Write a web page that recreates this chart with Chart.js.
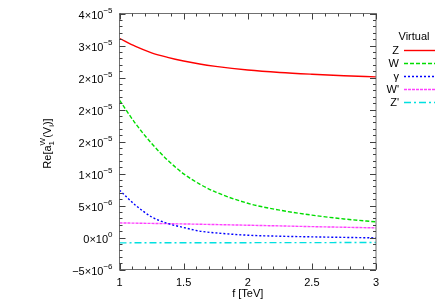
<!DOCTYPE html>
<html>
<head>
<meta charset="utf-8">
<script src="https://cdn.jsdelivr.net/npm/chart.js@4"></script>
<style>
  html, body { margin: 0; padding: 0; background: #fff; }
  #wrap { width: 436px; height: 305px; position: relative; }
</style>
</head>
<body>
<div id="wrap"><canvas id="chart" width="436" height="305"></canvas></div>
<script>
// f [TeV] sample points
const fValues = [1, 1.125, 1.25, 1.375, 1.5, 1.625, 1.75, 2, 2.25, 2.5, 2.75, 3];

// Re[a_1^W(V_i)] for each virtual boson
const zValues = [3.11e-5, 2.985e-5, 2.886e-5, 2.815e-5, 2.757e-5, 2.71e-5, 2.674e-5, 2.618e-5, 2.579e-5, 2.551e-5, 2.528e-5, 2.51e-5];
const wValues = [2.145e-5, 1.78e-5, 1.47e-5, 1.21e-5, 9.95e-6, 8.35e-6, 7.1e-6, 5.35e-6, 4.27e-6, 3.5e-6, 2.9e-6, 2.44e-6];
const gammaValues = [7.4e-6, 5.05e-6, 3.22e-6, 2.2e-6, 1.56e-6, 1.0e-6, 7.2e-7, 3.6e-7, 2.0e-7, 1.0e-7, 2e-8, -6e-8];
const wPrimeValues = [2.28e-6, 2.24e-6, 2.2e-6, 2.16e-6, 2.12e-6, 2.07e-6, 2.02e-6, 1.92e-6, 1.81e-6, 1.7e-6, 1.6e-6, 1.5e-6];
const zPrimeValues = [-8.4e-7, -8.3e-7, -8.3e-7, -8.25e-7, -8.2e-7, -8.2e-7, -8.2e-7, -8.1e-7, -8.0e-7, -8.0e-7, -7.9e-7, -7.8e-7];

const seriesLabels = ['Z', 'W', 'γ', "W'", "Z'"];
const legendTitle = 'Virtual';

// axis ticks (gnuplot rounds the mantissa, hence the repeated 2s)
const xTicks = [1, 1.5, 2, 2.5, 3];
const xTickLabels = ['1', '1.5', '2', '2.5', '3'];
const yTicks = [-5e-6, 0, 5e-6, 1e-5, 1.5e-5, 2e-5, 2.5e-5, 3e-5, 3.5e-5];
const yTickMantissa = ['\u22125', '0', '5', '1', '2', '2', '2', '3', '4'];
const yTickExponent = ['\u22126', '0', '\u22126', '\u22125', '\u22125', '\u22125', '\u22125', '\u22125', '\u22125'];

const FONT = '"Liberation Sans", Arial, sans-serif';

function toPoints(ys) {
    return fValues.map((x, i) => ({ x: x, y: ys[i] }));
}

const styles = [
    { color: '#ff0000', dash: [] },
    { color: '#00dd00', dash: [4, 2] },
    { color: '#0000ff', dash: [2, 2] },
    { color: '#ff40ff', dash: [3, 1] },
    { color: '#00e0e0', dash: [7, 3, 2, 3] },
];

const allValues = [zValues, wValues, gammaValues, wPrimeValues, zPrimeValues];

const datasets = allValues.map((vals, i) => ({
    label: seriesLabels[i],
    data: toPoints(vals),
    borderColor: styles[i].color,
    borderDash: styles[i].dash,
    borderWidth: 1.4,
    pointRadius: 0,
    fill: false,
    cubicInterpolationMode: 'monotone',
}));

// draws the gnuplot style frame, inward ticks, labels and key
const gnuplotDecor = {
    id: 'gnuplotDecor',
    afterDraw(chart) {
        const ctx = chart.ctx;
        const area = chart.chartArea;
        const xs = chart.scales.x;
        const ys = chart.scales.y;

        ctx.save();
        // frame
        ctx.strokeStyle = '#707070';
        ctx.lineWidth = 1;
        ctx.setLineDash([]);
        ctx.strokeRect(area.left, area.top, area.right - area.left, area.bottom - area.top);

        // x ticks: major every 0.5, minor every 0.1
        ctx.strokeStyle = '#404040';
        for (let k = 0; k <= 20; k++) {
            const v = 1 + k * 0.1;
            const px = Math.round(xs.getPixelForValue(v)) + 0.5;
            const len = (k % 5 === 0) ? 6 : 3;
            ctx.beginPath();
            ctx.moveTo(px, area.bottom);
            ctx.lineTo(px, area.bottom - len);
            ctx.moveTo(px, area.top);
            ctx.lineTo(px, area.top + len);
            ctx.stroke();
        }
        // y ticks: major every 5e-6, minor every 1e-6
        for (let k = 0; k <= 40; k++) {
            const v = -5e-6 + k * 1e-6;
            const py = Math.round(ys.getPixelForValue(v)) + 0.5;
            const len = (k % 5 === 0) ? 6 : 3;
            ctx.beginPath();
            ctx.moveTo(area.left, py);
            ctx.lineTo(area.left + len, py);
            ctx.moveTo(area.right, py);
            ctx.lineTo(area.right - len, py);
            ctx.stroke();
        }

        ctx.fillStyle = '#000';
        // x tick labels
        ctx.font = '11px ' + FONT;
        ctx.textAlign = 'center';
        ctx.textBaseline = 'middle';
        xTicks.forEach((v, i) => {
            ctx.fillText(xTickLabels[i], xs.getPixelForValue(v), area.bottom + 13);
        });
        ctx.fillText('f [TeV]', (area.left + area.right) / 2, area.bottom + 24);

        // y tick labels  m×10^e
        const rightEdge = area.left - 7;
        yTicks.forEach((v, i) => {
            const py = ys.getPixelForValue(v);
            ctx.font = '8px ' + FONT;
            ctx.textAlign = 'right';
            ctx.textBaseline = 'middle';
            const ew = ctx.measureText(yTickExponent[i]).width;
            ctx.fillText(yTickExponent[i], rightEdge, py - 3);
            ctx.font = '11px ' + FONT;
            ctx.fillText(yTickMantissa[i] + '\u00d710', rightEdge - ew, py + 2);
        });

        // y axis title Re[a_1^W(V_i)]
        ctx.save();
        ctx.translate(47, (area.top + area.bottom) / 2 + 2);
        ctx.rotate(-Math.PI / 2);
        ctx.textAlign = 'left';
        ctx.textBaseline = 'alphabetic';
        const parts = [
            { t: 'Re[a', size: 11, dy: 0 },
            { t: '1', size: 8, dy: 3, keep: true },
            { t: 'W', size: 8, dy: -6 },
            { t: '(V', size: 11, dy: 0 },
            { t: 'i', size: 8, dy: 3 },
            { t: ')]', size: 11, dy: 0 },
        ];
        let total = 0;
        parts.forEach(p => {
            ctx.font = p.size + 'px ' + FONT;
            p.w = ctx.measureText(p.t).width;
            if (!p.keep) total += p.w;
        });
        let cx = -total / 2;
        parts.forEach(p => {
            ctx.font = p.size + 'px ' + FONT;
            ctx.fillText(p.t, cx, 4 + p.dy);
            if (!p.keep) cx += p.w;
        });
        ctx.restore();

        // key
        ctx.font = '11px ' + FONT;
        ctx.textAlign = 'center';
        ctx.textBaseline = 'middle';
        ctx.fillText(legendTitle, 414, 37);
        chart.data.datasets.forEach((ds, i) => {
            const ly = Math.round(49.5 + i * 13.1) + 0.5;
            ctx.fillStyle = '#000';
            ctx.textAlign = 'right';
            ctx.fillText(ds.label, 399, ly);
            ctx.strokeStyle = ds.borderColor;
            ctx.lineWidth = 1.4;
            ctx.setLineDash(ds.borderDash);
            ctx.beginPath();
            ctx.moveTo(404, ly);
            ctx.lineTo(435, ly);
            ctx.stroke();
        });
        ctx.restore();
    }
};

new Chart(document.getElementById('chart'), {
    type: 'line',
    data: { datasets: datasets },
    options: {
        responsive: false,
        animation: false,
        layout: { padding: { left: 119.5, top: 13.5, right: 60, bottom: 35.5 } },
        plugins: { legend: { display: false }, tooltip: { enabled: false } },
        scales: {
            x: { type: 'linear', min: 1, max: 3, display: false },
            y: { type: 'linear', min: -5e-6, max: 3.5e-5, display: false },
        },
    },
    plugins: [gnuplotDecor],
});
</script>
</body>
</html>
